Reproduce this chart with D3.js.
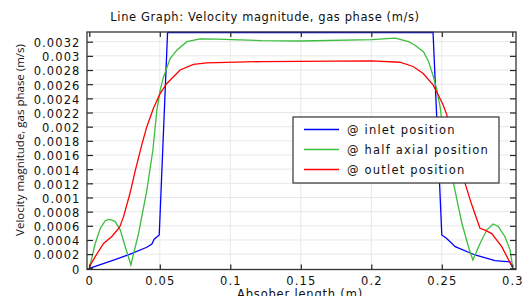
<!DOCTYPE html>
<html>
<head>
<meta charset="utf-8">
<script src="https://cdn.jsdelivr.net/npm/d3@7"></script>
<style>
  body { margin: 0; background: #fff; }
  text { font-family: "DejaVu Sans", sans-serif; fill: #111; }
</style>
</head>
<body>
<div id="chart"></div>
<script>
// data
var xTicks = [0, 0.05, 0.1, 0.15, 0.2, 0.25, 0.3]
var xTickLabels = ["0", "0.05", "0.1", "0.15", "0.2", "0.25", "0.3"]
var yTicks = [0, 0.0002, 0.0004, 0.0006, 0.0008, 0.001, 0.0012, 0.0014, 0.0016,
  0.0018, 0.002, 0.0022, 0.0024, 0.0026, 0.0028, 0.003, 0.0032]
var yTickLabels = ["0", "0.0002", "0.0004", "0.0006", "0.0008", "0.001", "0.0012", "0.0014", "0.0016",
  "0.0018", "0.002", "0.0022", "0.0024", "0.0026", "0.0028", "0.003", "0.0032"]

var seriesNames = ["@ inlet position", "@ half axial position", "@ outlet position"]
var seriesColors = ["#0000ff", "#3cbd3c", "#ff0000"]

var inletX = [0, 0.0172, 0.029, 0.0408, 0.0444, 0.046, 0.0496, 0.0555, 0.2438, 0.25, 0.2535, 0.2595, 0.2736, 0.2877, 0.2984, 0.3]
var inletY = [0, 0.000117, 0.0002, 0.000297, 0.000343, 0.00041, 0.00047, 0.00333, 0.00333, 0.00047, 0.00042, 0.000305, 0.000188, 0.000107, 0.00009, 0.00002]

var halfX = [0, 0.0042, 0.0078, 0.0113, 0.0137, 0.016, 0.0184, 0.022, 0.0255, 0.0295, 0.0349, 0.0408, 0.0451, 0.0479, 0.0503,
  0.0526, 0.0574, 0.0621, 0.0692, 0.0786, 0.0904, 0.1223, 0.15, 0.2004, 0.217, 0.2264, 0.231, 0.237, 0.2406, 0.2441,
  0.2465, 0.2488, 0.2512, 0.2583, 0.2642, 0.2689, 0.272, 0.2771, 0.2819, 0.2864, 0.2901, 0.2948, 0.2984, 0.3]
var halfY = [0, 0.00035, 0.000565, 0.000672, 0.00069, 0.00068, 0.00066, 0.00054, 0.000305, 0.000047, 0.00049, 0.0011, 0.00167, 0.00223, 0.00252,
  0.0027, 0.002965, 0.00308, 0.0032, 0.00324, 0.003235, 0.003215, 0.00321, 0.00323, 0.00325, 0.0032, 0.00315, 0.00306, 0.00292, 0.0027,
  0.00252, 0.00228, 0.0019, 0.0012, 0.00064, 0.000305, 0.000117, 0.00035, 0.00054, 0.000626, 0.00059, 0.000446, 0.00026, 0.00005]

var outletX = [0, 0.0042, 0.0101, 0.016, 0.0215, 0.0243, 0.029, 0.0326, 0.0373, 0.0408, 0.0455, 0.0503, 0.055, 0.0644, 0.0739, 0.0833,
  0.1223, 0.2, 0.2202, 0.2297, 0.2368, 0.2438, 0.2474, 0.2509, 0.2535, 0.258, 0.262, 0.2665, 0.2712, 0.2771, 0.2807, 0.2854, 0.2925, 0.3]
var outletY = [0.00002, 0.000164, 0.00035, 0.00045, 0.00058, 0.00073, 0.00107, 0.00138, 0.00175, 0.002, 0.00226, 0.00247, 0.00261, 0.0028, 0.00288, 0.0029,
  0.00292, 0.00293, 0.00291, 0.00285, 0.00275, 0.00259, 0.00245, 0.00231, 0.00217, 0.0018, 0.0015, 0.0012, 0.0009, 0.000565, 0.00054, 0.00049, 0.000305, 0.00002]

var W = 524, H = 296
var frame = {left: 87, right: 516, top: 32, bottom: 269.5}

var svg = d3.select("#chart").append("svg")
  .attr("width", W)
  .attr("height", H)

var x = d3.scaleLinear().domain([0, 0.3]).range([89.3, 512.3])
var y = d3.scaleLinear().domain([0, 0.0032]).range([268.3, 41.7])

// grid
svg.append("g").selectAll("line.vg")
  .data(xTicks.slice(1, -1))
  .enter().append("line")
  .attr("x1", function(d) { return x(d) }).attr("x2", function(d) { return x(d) })
  .attr("y1", frame.top).attr("y2", frame.bottom)
  .attr("stroke", "#e8e8e8")
svg.append("g").selectAll("line.hg")
  .data(yTicks.slice(1))
  .enter().append("line")
  .attr("y1", function(d) { return y(d) }).attr("y2", function(d) { return y(d) })
  .attr("x1", frame.left).attr("x2", frame.right)
  .attr("stroke", "#e8e8e8")

// curves
var series = [
  {xs: inletX, ys: inletY},
  {xs: halfX, ys: halfY},
  {xs: outletX, ys: outletY}
]
var line = d3.line()
  .x(function(d) { return x(d[0]) })
  .y(function(d) { return y(d[1]) })

svg.append("g").selectAll("path")
  .data(series)
  .enter().append("path")
  .attr("d", function(s) { return line(d3.zip(s.xs, s.ys)) })
  .attr("fill", "none")
  .attr("stroke", function(s, i) { return seriesColors[i] })
  .attr("stroke-width", 1.3)

// axes, ticks pointing inward
var bottom = svg.append("g")
  .attr("transform", "translate(0," + frame.bottom + ")")
  .call(d3.axisBottom(x).tickValues(xTicks).tickSize(-5).tickPadding(7.5)
    .tickFormat(function(d, i) { return xTickLabels[i] }))
var top = svg.append("g")
  .attr("transform", "translate(0," + frame.top + ")")
  .call(d3.axisTop(x).tickValues(xTicks).tickSize(-5).tickFormat(""))
var left = svg.append("g")
  .attr("transform", "translate(" + frame.left + ",0)")
  .call(d3.axisLeft(y).tickValues(yTicks).tickSize(-6).tickPadding(6.5)
    .tickFormat(function(d, i) { return yTickLabels[i] }))
var right = svg.append("g")
  .attr("transform", "translate(" + frame.right + ",0)")
  .call(d3.axisRight(y).tickValues(yTicks).tickSize(-6).tickFormat(""))

svg.selectAll(".domain").remove()
svg.selectAll(".tick line").attr("stroke", "#222").attr("stroke-width", 1.2)
svg.selectAll(".tick text")
  .attr("fill", "#111")
  .style("font-family", "'DejaVu Sans', sans-serif")
  .style("font-size", "11.5px")
  .style("letter-spacing", "1.1px")
left.selectAll(".tick text").attr("dy", "0.42em")

svg.append("rect")
  .attr("x", frame.left).attr("y", frame.top)
  .attr("width", frame.right - frame.left).attr("height", frame.bottom - frame.top)
  .attr("fill", "none")
  .attr("stroke", "#333")
  .attr("stroke-width", 1.3)

// title and labels
svg.append("text")
  .attr("x", 265).attr("y", 21)
  .attr("text-anchor", "middle")
  .style("font-size", "11.5px")
  .style("letter-spacing", "0.6px")
  .text("Line Graph: Velocity magnitude, gas phase (m/s)")

svg.append("text")
  .attr("x", 300).attr("y", 297.5)
  .attr("text-anchor", "middle")
  .style("font-size", "11.5px")
  .style("letter-spacing", "0.8px")
  .text("Absober length (m)")

svg.append("text")
  .attr("transform", "translate(23.5,140) rotate(-90)")
  .attr("text-anchor", "middle")
  .style("font-family", "'Open Sans', sans-serif")
  .style("font-size", "11.5px")
  .text("Velocity magnitude, gas phase (m/s)")

// legend
var legend = svg.append("g")
legend.append("rect")
  .attr("x", 293).attr("y", 117)
  .attr("width", 206).attr("height", 66)
  .attr("fill", "#fff")
  .attr("stroke", "#333")
  .attr("stroke-width", 1.2)

var rows = legend.selectAll("g.row")
  .data(seriesNames)
  .enter().append("g")
  .attr("transform", function(d, i) { return "translate(0," + (129.5 + i * 20) + ")" })
rows.append("line")
  .attr("x1", 304).attr("x2", 339)
  .attr("stroke", function(d, i) { return seriesColors[i] })
  .attr("stroke-width", 1.3)
rows.append("text")
  .attr("x", 347).attr("y", 4)
  .style("font-size", "11.5px")
  .style("letter-spacing", "1.2px")
  .text(function(d) { return d })
</script>
</body>
</html>
